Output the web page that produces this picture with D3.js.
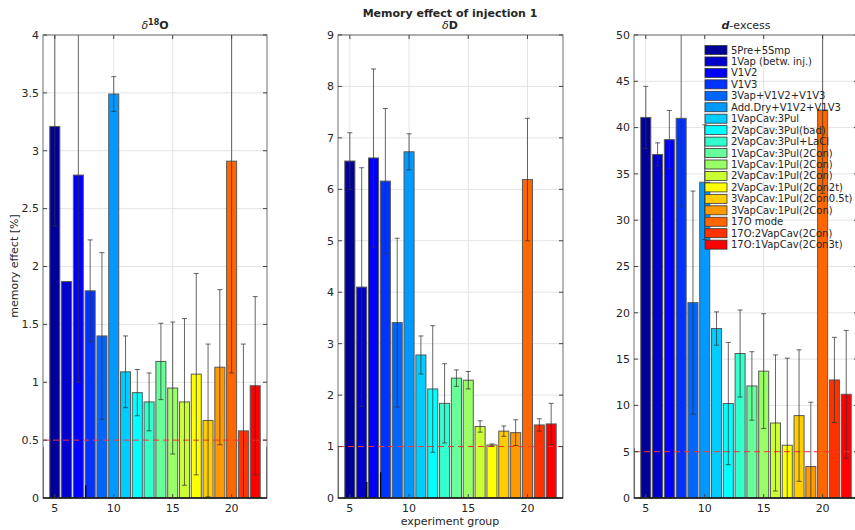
<!DOCTYPE html>
<html>
<head>
<meta charset="utf-8">
<script src="https://cdn.jsdelivr.net/npm/d3@7"></script>
<style>
  body { margin: 0; background: #fff; }
  text { font-family: "DejaVu Sans", sans-serif; fill: #262626; }
</style>
</head>
<body>
<div id="chart"></div>
<script>
// chart data
var groups = [5, 6, 7, 8, 9, 10, 11, 12, 13, 14, 15, 16, 17, 18, 19, 20, 21, 22];

var legendLabels = ["5Pre+5Smp", "1Vap (betw. inj.)", "V1V2", "V1V3", "3Vap+V1V2+V1V3",
  "Add.Dry+V1V2+V1V3", "1VapCav:3Pul", "2VapCav:3Pul(bad)", "2VapCav:3Pul+LaCl",
  "1VapCav:3Pul(2Con)", "1VapCav:1Pul(2Con)", "2VapCav:1Pul(2Con)", "2VapCav:1Pul(2Con2t)",
  "3VapCav:1Pul(2Con0.5t)", "3VapCav:1Pul(2Con)", "17O mode", "17O:2VapCav(2Con)",
  "17O:1VapCav(2Con3t)"];

var barColors = ["#000099", "#0000cc", "#0000ff", "#0033ff", "#0066ff", "#0099ff",
  "#00ccff", "#00ffff", "#33ffcc", "#66ff99", "#99ff66", "#ccff33",
  "#ffff00", "#ffcc00", "#ff9900", "#ff6600", "#ff3300", "#ff0000"];

// delta 18O
var o18Values = [3.21, 1.87, 2.79, 1.79, 1.40, 3.49, 1.09, 0.91, 0.83, 1.18, 0.95, 0.83, 1.07, 0.67, 1.13, 2.91, 0.58, 0.97];
var o18Errors = [0.86, 0, 1.79, 0.44, 0.72, 0.15, 0.31, 0.20, 0.25, 0.33, 0.57, 0.72, 0.87, 0.66, 0.67, 1.83, 0.75, 0.77];
var o18Ticks = [0, 0.5, 1, 1.5, 2, 2.5, 3, 3.5, 4];

// delta D
var dValues = [6.55, 4.10, 6.61, 6.16, 3.41, 6.73, 2.78, 2.12, 1.84, 2.33, 2.29, 1.39, 1.03, 1.30, 1.27, 6.19, 1.42, 1.44];
var dErrors = [0.55, 2.32, 1.73, 1.41, 1.64, 0.35, 0.37, 1.23, 0.77, 0.16, 0.17, 0.11, 0.02, 0.10, 0.25, 1.19, 0.12, 0.40];
var dTicks = [0, 1, 2, 3, 4, 5, 6, 7, 8, 9];

// d-excess
var dxValues = [41.1, 37.1, 38.7, 41.0, 21.1, 34.1, 18.3, 10.2, 15.6, 12.1, 13.7, 8.1, 5.7, 8.9, 3.4, 41.9, 12.75, 11.2];
var dxErrors = [3.35, 1.25, 3.15, 9.5, 12.05, 6.2, 1.8, 6.6, 4.7, 3.7, 6.2, 7.35, 9.4, 7.1, 6.95, 9.0, 4.6, 6.9];
var dxTicks = [0, 5, 10, 15, 20, 25, 30, 35, 40, 45, 50];

var xTicks = [5, 10, 15, 20];

// small leftover stubs seen in the original figure: [x, height]
var o18Stubs = [[4, 0.44], [7.63, 0.11], [23, 0.44]];
var dStubs = [[4, 0.99], [6.43, 0.31], [7.6, 0.5], [23, 0.99]];
var dxStubs = [[4, 5.4]];

// threshold lines
var o18Limit = 0.5;
var dLimit = 1;
var dxLimit = 5;

// layout
var svgWidth = 855;
var svgHeight = 530;
var plotTop = 35;
var plotBottom = 498;

var svg = d3.select("#chart")
  .append("svg")
  .attr("width", svgWidth)
  .attr("height", svgHeight);

var panels = [
  { id: "o18", left: 43, right: 267, max: 4, ticks: o18Ticks, values: o18Values, errors: o18Errors, stubs: o18Stubs, limit: o18Limit },
  { id: "dd", left: 338, right: 563, max: 9, ticks: dTicks, values: dValues, errors: dErrors, stubs: dStubs, limit: dLimit },
  { id: "dx", left: 634, right: 858, max: 50, ticks: dxTicks, values: dxValues, errors: dxErrors, stubs: dxStubs, limit: dxLimit }
];

var barWidth = 0.85;

panels.forEach(function(p) {
  var x = d3.scaleLinear().domain([4, 23]).range([p.left, p.right]);
  var y = d3.scaleLinear().domain([0, p.max]).range([plotBottom, plotTop]);

  svg.append("clipPath").attr("id", "clip-" + p.id)
    .append("rect")
    .attr("x", p.left).attr("y", plotTop)
    .attr("width", p.right - p.left).attr("height", plotBottom - plotTop);

  // grid
  var grid = svg.append("g");
  grid.selectAll(".gy").data(p.ticks).enter().append("line")
    .attr("x1", p.left).attr("x2", p.right)
    .attr("y1", d => y(d)).attr("y2", d => y(d))
    .attr("stroke", "#e3e3e3").attr("stroke-width", 1);
  grid.selectAll(".gx").data(xTicks).enter().append("line")
    .attr("x1", d => x(d)).attr("x2", d => x(d))
    .attr("y1", plotTop).attr("y2", plotBottom)
    .attr("stroke", "#e3e3e3").attr("stroke-width", 1);

  var plot = svg.append("g").attr("clip-path", "url(#clip-" + p.id + ")");

  // bars
  plot.selectAll(".bar").data(groups).enter().append("rect")
    .attr("x", (d, i) => x(d - barWidth / 2))
    .attr("width", x(barWidth) - x(0))
    .attr("y", (d, i) => y(p.values[i]))
    .attr("height", (d, i) => plotBottom - y(p.values[i]))
    .attr("fill", (d, i) => barColors[i])
    .attr("stroke", "#5a5a5a")
    .attr("stroke-width", 1);

  // threshold line
  plot.append("line")
    .attr("x1", p.left).attr("x2", p.right)
    .attr("y1", y(p.limit)).attr("y2", y(p.limit))
    .attr("stroke", "#ff3333").attr("stroke-width", 1)
    .attr("stroke-dasharray", "6,4");

  // error bars
  var eb = plot.selectAll(".err").data(groups).enter().append("g")
    .attr("stroke", "#333").attr("stroke-opacity", 0.75).attr("stroke-width", 1);
  eb.filter((d, i) => p.errors[i] > 0).append("line")
    .attr("x1", d => x(d)).attr("x2", d => x(d))
    .attr("y1", (d, i) => y(p.values[groups.indexOf(d)] + p.errors[groups.indexOf(d)]))
    .attr("y2", (d, i) => y(p.values[groups.indexOf(d)] - p.errors[groups.indexOf(d)]));
  eb.filter((d, i) => p.errors[i] > 0).selectAll(".cap")
    .data(d => {
      var k = groups.indexOf(d);
      return [[d, p.values[k] + p.errors[k]], [d, p.values[k] - p.errors[k]]];
    })
    .enter().append("line")
    .attr("x1", c => x(c[0]) - 2.5).attr("x2", c => x(c[0]) + 2.5)
    .attr("y1", c => y(c[1])).attr("y2", c => y(c[1]));

  // stubs
  plot.selectAll(".stub").data(p.stubs).enter().append("line")
    .attr("x1", d => x(d[0])).attr("x2", d => x(d[0]))
    .attr("y1", d => y(d[1])).attr("y2", plotBottom)
    .attr("stroke", "#000").attr("stroke-width", 1.2);

  // box
  svg.append("rect")
    .attr("x", p.left).attr("y", plotTop)
    .attr("width", p.right - p.left).attr("height", plotBottom - plotTop)
    .attr("fill", "none").attr("stroke", "#6e6e6e").attr("stroke-width", 1);
  svg.append("line")
    .attr("x1", p.left).attr("x2", p.right)
    .attr("y1", plotBottom).attr("y2", plotBottom)
    .attr("stroke", "#111").attr("stroke-width", 1.6);

  // ticks
  var tk = svg.append("g").attr("stroke", "#444").attr("stroke-width", 1);
  p.ticks.forEach(function(t) {
    tk.append("line").attr("x1", p.left).attr("x2", p.left + 4).attr("y1", y(t)).attr("y2", y(t));
    tk.append("line").attr("x1", p.right - 4).attr("x2", p.right).attr("y1", y(t)).attr("y2", y(t));
  });
  xTicks.forEach(function(t) {
    tk.append("line").attr("x1", x(t)).attr("x2", x(t)).attr("y1", plotBottom).attr("y2", plotBottom - 4);
    tk.append("line").attr("x1", x(t)).attr("x2", x(t)).attr("y1", plotTop).attr("y2", plotTop + 4);
  });

  svg.selectAll(".yl-" + p.id).data(p.ticks).enter().append("text")
    .attr("x", p.left - 4).attr("y", d => y(d))
    .attr("dy", "0.35em").attr("text-anchor", "end")
    .style("font-size", "11px")
    .text(d => d);
  svg.selectAll(".xl-" + p.id).data(xTicks).enter().append("text")
    .attr("x", d => x(d)).attr("y", 512)
    .attr("text-anchor", "middle")
    .style("font-size", "11px")
    .text(d => d);

  p.x = x;
});

// titles
svg.append("text").attr("x", 450).attr("y", 17).attr("text-anchor", "middle")
  .style("font-size", "11px").style("font-weight", "bold")
  .text("Memory effect of injection 1");

var t1 = svg.append("text").attr("x", 155).attr("y", 29).attr("text-anchor", "middle")
  .style("font-size", "11px");
t1.append("tspan").style("font-style", "italic").text("δ");
t1.append("tspan").attr("dy", -4).style("font-size", "8px").style("font-weight", "bold").text("18");
t1.append("tspan").attr("dy", 4).style("font-weight", "bold").text("O");

var t2 = svg.append("text").attr("x", 450).attr("y", 29).attr("text-anchor", "middle")
  .style("font-size", "11px");
t2.append("tspan").style("font-style", "italic").text("δ");
t2.append("tspan").style("font-weight", "bold").text("D");

var t3 = svg.append("text").attr("x", 746).attr("y", 29).attr("text-anchor", "middle")
  .style("font-size", "11px");
t3.append("tspan").style("font-style", "italic").style("font-weight", "bold").text("d");
t3.append("tspan").text("-excess");

// axis labels
svg.append("text").attr("x", 450).attr("y", 525).attr("text-anchor", "middle")
  .style("font-size", "11px").text("experiment group");
svg.append("text").attr("transform", "translate(18,266) rotate(-90)")
  .attr("text-anchor", "middle").style("font-size", "11px")
  .text("memory effect [%]");

// legend (transparent, on the right panel)
var legend = svg.append("g").attr("transform", "translate(705,50)");
var rows = legend.selectAll(".row").data(legendLabels).enter().append("g")
  .attr("transform", (d, i) => "translate(0," + (i * 11.45) + ")");
rows.append("rect")
  .attr("x", 0).attr("y", -4.5).attr("width", 22).attr("height", 9)
  .attr("fill", (d, i) => barColors[i])
  .attr("stroke", "#333").attr("stroke-width", 0.8);
rows.append("text")
  .attr("x", 26).attr("y", 0).attr("dy", "0.35em")
  .style("font-size", "10px")
  .text(d => d);
</script>
</body>
</html>
